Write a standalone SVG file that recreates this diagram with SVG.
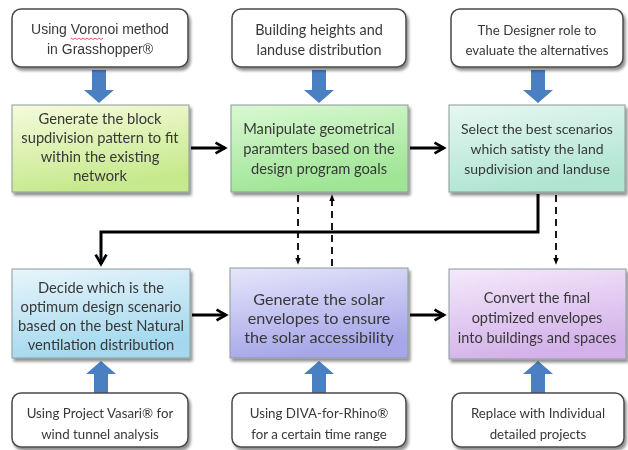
<svg xmlns="http://www.w3.org/2000/svg" width="628" height="450" viewBox="0 0 628 450">
<defs>
<filter id="sh" x="-10%" y="-10%" width="125%" height="130%">
<feGaussianBlur in="SourceAlpha" stdDeviation="1.8"/>
<feOffset dx="2" dy="3" result="b"/>
<feComponentTransfer><feFuncA type="linear" slope="0.45"/></feComponentTransfer>
<feMerge><feMergeNode/><feMergeNode in="SourceGraphic"/></feMerge>
</filter>
<linearGradient id="gA" x1="0" y1="0" x2="0.3" y2="1"><stop offset="0" stop-color="#f6fbdc"/><stop offset="1" stop-color="#c6e98c"/></linearGradient>
<linearGradient id="gB" x1="0" y1="0" x2="0.3" y2="1"><stop offset="0" stop-color="#d9f8d2"/><stop offset="1" stop-color="#a0e596"/></linearGradient>
<linearGradient id="gC" x1="0" y1="0" x2="0.3" y2="1"><stop offset="0" stop-color="#e6f7f1"/><stop offset="1" stop-color="#b0e5d2"/></linearGradient>
<linearGradient id="gD" x1="0" y1="0" x2="0.3" y2="1"><stop offset="0" stop-color="#e8f5fb"/><stop offset="1" stop-color="#a3d8ee"/></linearGradient>
<linearGradient id="gE" x1="0" y1="0" x2="0.3" y2="1"><stop offset="0" stop-color="#e6e6fb"/><stop offset="1" stop-color="#a6a6e9"/></linearGradient>
<linearGradient id="gF" x1="0" y1="0" x2="0.3" y2="1"><stop offset="0" stop-color="#f5e9fb"/><stop offset="1" stop-color="#d3b2e9"/></linearGradient>
<marker id="open" viewBox="0 0 10 10" refX="8" refY="5" markerWidth="4.5" markerHeight="4.5" orient="auto" markerUnits="strokeWidth">
<path d="M1,1 L8,5 L1,9" fill="none" stroke="#000" stroke-width="2"/>
</marker>
<marker id="tri" viewBox="0 0 10 10" refX="9" refY="5" markerWidth="4" markerHeight="4" orient="auto" markerUnits="strokeWidth">
<path d="M0,1 L10,5 L0,9 Z" fill="#000"/>
</marker>
<path id="bdown" d="M-7,0 H7 V20 H15 L0,33 L-15,20 H-7 Z"/>
</defs>
<style>
.w{fill:#fff;stroke:#4a4a4a;stroke-width:1.5}
.p{stroke:#8a9a9a;stroke-width:1}
.t{font-family:Lato,"Open Sans",sans-serif;fill:#383838;text-anchor:middle}
.a{font-family:"Liberation Sans",Arial,sans-serif;fill:#383838;text-anchor:middle;font-size:14px}
.blue{fill:#4a7fc1}
.k{fill:none;stroke:#000;stroke-width:3}
.d{fill:none;stroke:#000;stroke-width:1.8;stroke-dasharray:7 5}
</style>

<g id="connectors">
<use href="#bdown" class="blue" transform="translate(99,70)"/>
<use href="#bdown" class="blue" transform="translate(319,70)"/>
<use href="#bdown" class="blue" transform="translate(538,70)"/>
<use href="#bdown" class="blue" transform="translate(101,394) scale(1,-1)"/>
<use href="#bdown" class="blue" transform="translate(319,394) scale(1,-1)"/>
<use href="#bdown" class="blue" transform="translate(538,394) scale(1,-1)"/>
<path class="k" d="M191,148 H225" marker-end="url(#open)"/>
<path class="k" d="M410,148 H444" marker-end="url(#open)"/>
<path class="k" d="M192,315 H226" marker-end="url(#open)"/>
<path class="k" d="M410,315 H444" marker-end="url(#open)"/>
<path class="k" d="M538,194 V232 H101 V264" marker-end="url(#open)"/>
<path class="d" d="M298,195 V264" marker-end="url(#tri)"/>
<path class="d" d="M332,266 V195" marker-end="url(#tri)"/>
<path class="d" d="M556,195 V264" marker-end="url(#tri)"/>
</g>

<g id="n1" filter="url(#sh)"><rect class="w" x="12" y="9" width="176" height="58" rx="9"/>
<text class="a" x="100" y="34">Using Voronoi method</text><text class="a" x="100" y="54">in Grasshopper®</text>
<path d="M71,38 l2,1.5 2,-1.5 2,1.5 2,-1.5 2,1.5 2,-1.5 2,1.5 2,-1.5 2,1.5 2,-1.5 2,1.5 2,-1.5 2,1.5 2,-1.5 2,1.5 2,-1.5" fill="none" stroke="#e03030" stroke-width="0.8"/></g>
<g id="n2" filter="url(#sh)"><rect class="w" x="232" y="9" width="174" height="58" rx="9"/>
<text class="t" font-size="14.4" x="319" y="35">Building heights and</text><text class="t" font-size="14.4" x="319" y="55">landuse distribution</text></g>
<g id="n3" filter="url(#sh)"><rect class="w" x="451" y="9" width="172" height="58" rx="9"/>
<text class="t" font-size="13.3" x="537" y="35">The Designer role to</text><text class="t" font-size="13.3" x="537" y="55">evaluate the alternatives</text></g>

<g id="nA" filter="url(#sh)"><rect class="p" x="12" y="105" width="177" height="87" fill="url(#gA)"/>
<text class="t" font-size="14.7" x="100" y="124">Generate the block</text><text class="t" font-size="14.7" x="100" y="143">supdivision pattern to fit</text><text class="t" font-size="14.7" x="100" y="162">within the existing</text><text class="t" font-size="14.7" x="100" y="181">network</text></g>
<g id="nB" filter="url(#sh)"><rect class="p" x="231" y="105" width="177" height="87" fill="url(#gB)"/>
<text class="t" font-size="14.7" x="319" y="134">Manipulate geometrical</text><text class="t" font-size="14.7" x="319" y="154">paramters based on the</text><text class="t" font-size="14.7" x="319" y="174">design program goals</text></g>
<g id="nC" filter="url(#sh)"><rect class="p" x="449" y="105" width="176" height="87" fill="url(#gC)"/>
<text class="t" font-size="14" x="537" y="134">Select the best scenarios</text><text class="t" font-size="14" x="537" y="154">which satisty the land</text><text class="t" font-size="14" x="537" y="174">supdivision and landuse</text></g>

<g id="nD" filter="url(#sh)"><rect class="p" x="12" y="269" width="178" height="89" fill="url(#gD)"/>
<text class="t" font-size="14.7" x="101" y="293">Decide which is the</text><text class="t" font-size="14.7" x="101" y="312">optimum design scenario</text><text class="t" font-size="14.7" x="101" y="331">based on the best Natural</text><text class="t" font-size="14.7" x="101" y="350">ventilation distribution</text></g>
<g id="nE" filter="url(#sh)"><rect class="p" x="230" y="268" width="178" height="90" fill="url(#gE)"/>
<text class="t" font-size="16.2" x="319" y="305">Generate the solar</text><text class="t" font-size="16.2" x="319" y="324">envelopes to ensure</text><text class="t" font-size="16.2" x="319" y="343">the solar accessibility</text></g>
<g id="nF" filter="url(#sh)"><rect class="p" x="449" y="269" width="177" height="90" fill="url(#gF)"/>
<text class="t" font-size="14.5" x="537" y="303">Convert the final</text><text class="t" font-size="14.5" x="537" y="323">optimized envelopes</text><text class="t" font-size="14.5" x="537" y="343">into buildings and spaces</text></g>

<g id="nG" filter="url(#sh)"><rect class="w" x="12" y="393" width="176" height="54" rx="9"/>
<text class="t" font-size="13.3" x="100" y="418">Using Project Vasari® for</text><text class="t" font-size="13.3" x="100" y="439">wind tunnel analysis</text></g>
<g id="nH" filter="url(#sh)"><rect class="w" x="232" y="393" width="174" height="54" rx="9"/>
<text class="t" font-size="13.3" x="319" y="418">Using DIVA-for-Rhino®</text><text class="t" font-size="13.3" x="319" y="439">for a certain time range</text></g>
<g id="nI" filter="url(#sh)"><rect class="w" x="452" y="393" width="172" height="54" rx="9"/>
<text class="t" font-size="13.3" x="538" y="418">Replace with Individual</text><text class="t" font-size="13.3" x="538" y="439">detailed projects</text></g>
</svg>
